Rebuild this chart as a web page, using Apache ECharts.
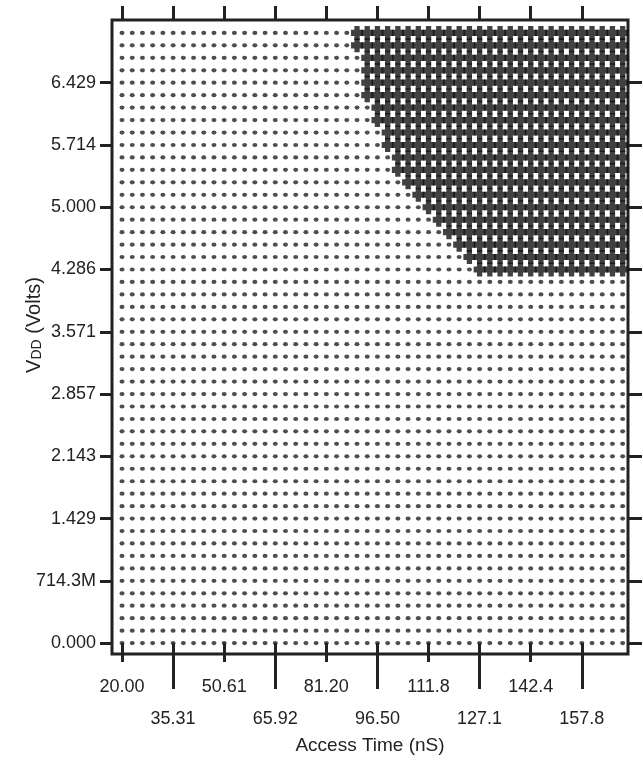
<!DOCTYPE html>
<html><head><meta charset="utf-8">
<script src="https://cdn.jsdelivr.net/npm/echarts@6/dist/echarts.min.js"></script>
<style>html,body{margin:0;padding:0;background:#fff}#c{width:643px;height:760px}</style>
</head><body><div id="c"></div>
<script>
// Sweep grid (access time in nS, Vdd in volts)
const accessTimes = [20.00,23.06,26.12,29.18,32.24,35.31,38.37,41.43,44.49,47.55,
  50.61,53.67,56.73,59.80,62.86,65.92,68.98,72.04,75.10,78.16,
  81.22,84.29,87.35,90.41,93.47,96.53,99.59,102.65,105.71,108.78,
  111.84,114.90,117.96,121.02,124.08,127.14,130.20,133.27,136.33,139.39,
  142.45,145.51,148.57,151.63,154.69,157.76,160.82,163.88,166.94,170.00];
const vddLevels = [0.000,0.143,0.286,0.429,0.571,0.714,0.857,1.000,1.143,1.286,
  1.429,1.571,1.714,1.857,2.000,2.143,2.286,2.429,2.571,2.714,
  2.857,3.000,3.143,3.286,3.429,3.571,3.714,3.857,4.000,4.143,
  4.286,4.429,4.571,4.714,4.857,5.000,5.143,5.286,5.429,5.571,
  5.714,5.857,6.000,6.143,6.286,6.429,6.571,6.714,6.857,7.000];
// Rows with a failing ('#') region: first failing access time per Vdd
const failVdd = [4.286,4.429,4.571,4.714,4.857,5.000,5.143,5.286,5.429,5.571,
  5.714,5.857,6.000,6.143,6.286,6.429,6.571,6.714,6.857,7.000];
const failOnsetTime = [127.14,124.08,121.02,117.96,114.90,111.84,108.78,105.71,102.65,102.65,
  99.59,99.59,96.53,96.53,93.47,93.47,93.47,93.47,90.41,90.41];

const xTickValues = [20.00,35.31,50.61,65.92,81.22,96.53,111.84,127.14,142.45,157.76];
const xTickLabels = ['20.00','35.31','50.61','65.92','81.20','96.50','111.8','127.1','142.4','157.8'];
const yTickValues = [0,0.7143,1.4286,2.1429,2.8571,3.5714,4.2857,5.0000,5.7143,6.4286];
const yTickLabels = ['0.000','714.3M','1.429','2.143','2.857','3.571','4.286','5.000','5.714','6.429'];

const passPts = [], failPts = [];
vddLevels.forEach(v => {
  let onset = Infinity;
  failVdd.forEach((fv, i) => { if (Math.abs(fv - v) < 1e-6) onset = failOnsetTime[i]; });
  accessTimes.forEach(t => {
    if (t >= onset - 1e-6) failPts.push([t, v]); else passPts.push([t, v]);
  });
});

const evenX = xTickValues.filter((_, i) => i % 2 === 0);
const oddX = xTickValues.filter((_, i) => i % 2 === 1);
const fmtX = val => { for (let i = 0; i < xTickValues.length; i++) if (Math.abs(xTickValues[i] - val) < 1e-6) return xTickLabels[i]; return ''; };
const fmtY = val => { for (let i = 0; i < yTickValues.length; i++) if (Math.abs(yTickValues[i] - val) < 1e-6) return yTickLabels[i]; return ''; };

const INK = '#222222';
const DARK = '#111111';
const FONT = 'Liberation Sans';
const XMIN = 17.0, XMAX = 171.6, YMIN = -0.125, YMAX = 7.148;
const baseX = {type: 'value', min: XMIN, max: XMAX, splitLine: {show: false}, axisLine: {show: false}};

const chart = echarts.init(document.getElementById('c'), null, {renderer: 'canvas'});
chart.setOption({
  backgroundColor: '#ffffff',
  animation: false,
  grid: {left: 112, top: 20, width: 516, height: 639, show: true, borderColor: INK, borderWidth: 3, backgroundColor: 'transparent'},
  xAxis: [
    Object.assign({}, baseX, {position: 'bottom',
      axisTick: {show: true, length: 19, customValues: evenX, lineStyle: {color: INK, width: 3}},
      axisLabel: {customValues: evenX, formatter: fmtX, margin: 24, color: INK, fontFamily: FONT, fontSize: 18},
      name: 'Access Time (nS)', nameLocation: 'middle', nameGap: 82,
      nameTextStyle: {color: INK, fontFamily: FONT, fontSize: 19}}),
    Object.assign({}, baseX, {position: 'bottom',
      axisTick: {show: true, length: 46, customValues: oddX, lineStyle: {color: INK, width: 3}},
      axisLabel: {customValues: oddX, formatter: fmtX, margin: 56, color: INK, fontFamily: FONT, fontSize: 18}}),
    Object.assign({}, baseX, {position: 'top',
      axisTick: {show: true, length: 14, customValues: xTickValues, lineStyle: {color: INK, width: 3}},
      axisLabel: {show: false}})
  ],
  yAxis: [
    {type: 'value', min: YMIN, max: YMAX, position: 'left', splitLine: {show: false}, axisLine: {show: false},
      axisTick: {show: true, length: 12, customValues: yTickValues, lineStyle: {color: INK, width: 3}},
      axisLabel: {customValues: yTickValues, formatter: fmtY, margin: 16, color: INK, fontFamily: FONT, fontSize: 18}},
    {type: 'value', min: YMIN, max: YMAX, position: 'right', splitLine: {show: false}, axisLine: {show: false},
      axisTick: {show: true, length: 14, customValues: yTickValues, lineStyle: {color: INK, width: 3}},
      axisLabel: {show: false}}
  ],
  graphic: [{
    type: 'text', x: 34, y: 325, rotation: Math.PI / 2,
    style: {
      text: '{v|V}{d|DD}{v| (Volts)}', align: 'center', verticalAlign: 'middle',
      rich: {v: {fontFamily: FONT, fontSize: 20, fill: INK, color: INK}, d: {fontFamily: FONT, fontSize: 14, fill: INK, color: INK, verticalAlign: 'bottom'}}
    }
  }],
  series: [
    {type: 'scatter', xAxisIndex: 0, yAxisIndex: 0, data: passPts, symbol: 'circle', symbolSize: [5, 4.2],
      itemStyle: {color: INK}, silent: true},
    {type: 'scatter', xAxisIndex: 0, yAxisIndex: 0, data: failPts,
      symbol: 'path://M28,0H72V28H100V72H72V100H28V72H0V28H28Z', symbolSize: [12, 14],
      itemStyle: {color: DARK}, silent: true}
  ]
});
</script></body></html>
